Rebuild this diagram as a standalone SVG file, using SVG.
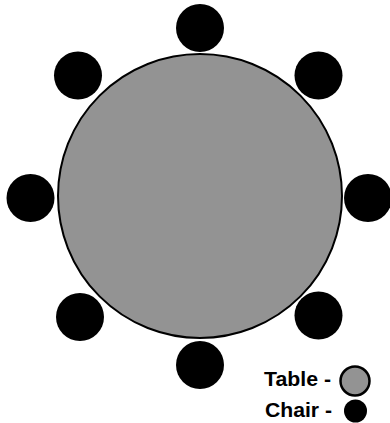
<svg xmlns="http://www.w3.org/2000/svg" width="390" height="423" viewBox="0 0 390 423">
<style>
.chair{fill:#000}
.table{fill:#939393;stroke:#000;stroke-width:2}
.lbl{font-family:"Liberation Sans",Arial,sans-serif;font-weight:bold;font-size:20px;fill:#000}
</style>
<rect width="390" height="423" fill="#fff"/>
<g id="table"><circle class="table" cx="200" cy="196" r="142"/></g>
<g id="chair-top"><circle class="chair" cx="200" cy="28" r="24"/></g>
<g id="chair-upper-left"><circle class="chair" cx="78" cy="75.5" r="24"/></g>
<g id="chair-upper-right"><circle class="chair" cx="318.5" cy="75.5" r="24"/></g>
<g id="chair-left"><circle class="chair" cx="30.5" cy="198" r="24"/></g>
<g id="chair-right"><circle class="chair" cx="368" cy="198" r="24"/></g>
<g id="chair-lower-left"><circle class="chair" cx="80" cy="317" r="24"/></g>
<g id="chair-lower-right"><circle class="chair" cx="318.5" cy="315.5" r="24"/></g>
<g id="chair-bottom"><circle class="chair" cx="200" cy="365" r="24"/></g>
<g id="legend">
<text class="lbl" x="264" y="386" textLength="67" lengthAdjust="spacingAndGlyphs">Table -</text>
<circle cx="355" cy="381" r="14.5" fill="#939393" stroke="#000" stroke-width="2.5"/>
<text class="lbl" x="265" y="417" textLength="67" lengthAdjust="spacingAndGlyphs">Chair -</text>
<circle cx="355.5" cy="411" r="11.5" fill="#000"/>
</g>
</svg>
